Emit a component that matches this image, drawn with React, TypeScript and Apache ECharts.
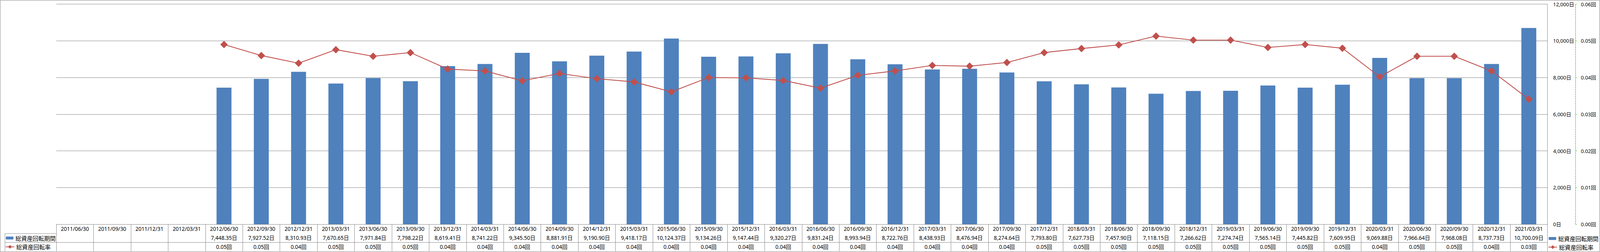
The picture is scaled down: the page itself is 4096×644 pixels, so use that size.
import React, { useEffect, useRef } from "react";
import * as echarts from "echarts";

const dates = [
  "2011/06/30", "2011/09/30", "2011/12/31", "2012/03/31",
  "2012/06/30", "2012/09/30", "2012/12/31", "2013/03/31",
  "2013/06/30", "2013/09/30", "2013/12/31", "2014/03/31",
  "2014/06/30", "2014/09/30", "2014/12/31", "2015/03/31",
  "2015/06/30", "2015/09/30", "2015/12/31", "2016/03/31",
  "2016/06/30", "2016/09/30", "2016/12/31", "2017/03/31",
  "2017/06/30", "2017/09/30", "2017/12/31", "2018/03/31",
  "2018/06/30", "2018/09/30", "2018/12/31", "2019/03/31",
  "2019/06/30", "2019/09/30", "2019/12/31", "2020/03/31",
  "2020/06/30", "2020/09/30", "2020/12/31", "2021/03/31",
];

const periodDays: (number | null)[] = [
  null, null, null, null,
  7448.35, 7927.52, 8310.93, 7670.65,
  7971.84, 7798.22, 8619.41, 8741.22,
  9345.5, 8881.91, 9190.9, 9418.17,
  10124.37, 9134.26, 9147.44, 9320.27,
  9831.24, 8993.94, 8722.76, 8438.93,
  8476.94, 8274.64, 7793.8, 7627.73,
  7457.9, 7118.15, 7266.62, 7274.74,
  7565.14, 7445.82, 7609.95, 9069.88,
  7966.64, 7968.08, 8737.73, 10700.09,
];

const turnoverRate: (number | null)[] = [
  null, null, null, null,
  0.049, 0.046, 0.0439, 0.0476,
  0.0458, 0.0468, 0.0423, 0.0418,
  0.0391, 0.0411, 0.0397, 0.0388,
  0.0361, 0.04, 0.0399, 0.0392,
  0.0371, 0.0406, 0.0418, 0.0433,
  0.0431, 0.0441, 0.0468, 0.0479,
  0.0489, 0.0513, 0.0502, 0.0502,
  0.0482, 0.049, 0.048, 0.0402,
  0.0458, 0.0458, 0.0418, 0.0341,
];

const NAME_BAR = "総資産回転期間";
const NAME_LINE = "総資産回転率";

const periodText = periodDays.map((v) =>
  v == null
    ? ""
    : v.toLocaleString("en-US", { minimumFractionDigits: 2, maximumFractionDigits: 2 }) + "日"
);
const rateText = turnoverRate.map((v) => (v == null ? "" : v.toFixed(2) + "回"));

const FONT = "'Noto Sans', 'Noto Sans CJK JP', sans-serif";
const CJK = "'Noto Sans CJK JP', 'Noto Sans', sans-serif";
const GRAY = "#878787";
const BLUE = "#4F81BD";
const RED = "#C0504D";

export default function App() {
  const ref = useRef<HTMLDivElement>(null);
  useEffect(() => {
    document.body.style.margin = "0";
    const chart = echarts.init(ref.current!, null, { renderer: "svg" });
    const gridLeft = 144;
    const gridRight = 134.5;
    const gridTop = 10.7;
    const gridBottomY = 573;
    const tableRow1 = 597;
    const tableRow2 = 619.5;
    const tableEnd = 642;
    const labelStyle = { fontFamily: FONT, fontSize: 13.5, color: "#000" };
    const legendBase = {
      orient: "horizontal",
      padding: 0,
      selectedMode: false,
      textStyle: { fontFamily: CJK, fontSize: 14.7, color: "#000", lineHeight: 16 },
    };
    chart.setOption({
      animation: false,
      backgroundColor: "#fff",
      grid: {
        left: gridLeft,
        right: gridRight,
        top: gridTop,
        bottom: 644 - gridBottomY,
        containLabel: false,
      },
      legend: [
        { ...legendBase, data: [NAME_BAR], left: 15, top: 600.3, itemWidth: 19.5, itemHeight: 7.5 },
        { ...legendBase, data: [NAME_LINE], left: 13.5, top: 622.8, itemWidth: 22, itemHeight: 12 },
        { ...legendBase, data: [NAME_BAR], left: 3964.5, top: 601.4, itemWidth: 19.5, itemHeight: 7.5 },
        { ...legendBase, data: [NAME_LINE], left: 3963, top: 623.5, itemWidth: 22, itemHeight: 12 },
      ],
      xAxis: [
        {
          type: "category",
          data: dates,
          position: "bottom",
          boundaryGap: true,
          axisLine: { show: true, lineStyle: { color: GRAY, width: 1 } },
          axisTick: { show: true, interval: 0, length: tableEnd - gridBottomY, lineStyle: { color: GRAY, width: 1 } },
          axisLabel: { ...labelStyle, interval: 0, margin: 12.4, verticalAlign: "middle" },
          splitLine: { show: false },
        },
        {
          type: "category",
          data: periodText,
          position: "bottom",
          offset: tableRow1 - gridBottomY,
          axisLine: { show: true, lineStyle: { color: GRAY, width: 1 } },
          axisTick: { show: false },
          axisLabel: { ...labelStyle, interval: 0, margin: 11.25, verticalAlign: "middle" },
          splitLine: { show: false },
        },
        {
          type: "category",
          data: rateText,
          position: "bottom",
          offset: tableRow2 - gridBottomY,
          axisLine: { show: true, lineStyle: { color: GRAY, width: 1 } },
          axisTick: { show: false },
          axisLabel: { ...labelStyle, interval: 0, margin: 11.25, verticalAlign: "middle" },
          splitLine: { show: false },
        },
      ],
      yAxis: [
        {
          type: "value",
          position: "right",
          min: 0,
          max: 12000,
          interval: 2000,
          axisLine: { show: true, lineStyle: { color: GRAY, width: 1 } },
          axisTick: { show: false },
          axisLabel: {
            fontFamily: FONT,
            fontSize: 13,
            color: "#000",
            margin: 14.5,
            formatter: (v: number) => v.toLocaleString("en-US") + "日",
          },
          splitLine: { show: true, lineStyle: { color: GRAY, width: 1 } },
        },
        {
          type: "value",
          position: "right",
          offset: 72,
          min: 0,
          max: 0.06,
          interval: 0.01,
          axisLine: { show: true, lineStyle: { color: "#00D000", width: 1, type: "dashed" } },
          axisTick: { show: true, length: 3, lineStyle: { color: "#00D000", width: 1 } },
          axisLabel: {
            fontFamily: FONT,
            fontSize: 13,
            color: "#000",
            margin: 13.5,
            formatter: (v: number) => v.toFixed(2) + "回",
          },
          splitLine: { show: false },
        },
      ],
      series: [
        {
          name: NAME_BAR,
          type: "bar",
          xAxisIndex: 0,
          yAxisIndex: 0,
          data: periodDays,
          barWidth: "40%",
          itemStyle: { color: BLUE },
        },
        {
          name: NAME_LINE,
          type: "line",
          xAxisIndex: 0,
          yAxisIndex: 1,
          data: turnoverRate,
          symbol: "diamond",
          symbolSize: 19,
          showAllSymbol: true,
          lineStyle: { color: RED, width: 2.1 },
          itemStyle: { color: RED },
          z: 3,
        },
      ],
      graphic: [
        {
          type: "rect",
          shape: { x: 0.5, y: 0.75, width: 4094.5, height: 642.5 },
          style: { fill: "none", stroke: GRAY, lineWidth: 1 },
          silent: true,
        },
        {
          type: "line",
          shape: { x1: 12.75, y1: tableRow1, x2: gridLeft, y2: tableRow1 },
          style: { stroke: GRAY, lineWidth: 1 },
          silent: true,
        },
        {
          type: "line",
          shape: { x1: 12.75, y1: tableRow2, x2: gridLeft, y2: tableRow2 },
          style: { stroke: GRAY, lineWidth: 1 },
          silent: true,
        },
        {
          type: "line",
          shape: { x1: 12.75, y1: tableRow1, x2: 12.75, y2: tableEnd },
          style: { stroke: GRAY, lineWidth: 1 },
          silent: true,
        },
      ],
    });
    return () => chart.dispose();
  }, []);
  return (
    <div
      ref={ref}
      style={{ position: "absolute", left: 0, top: 0, width: 4096, height: 644, background: "#fff" }}
    />
  );
}
